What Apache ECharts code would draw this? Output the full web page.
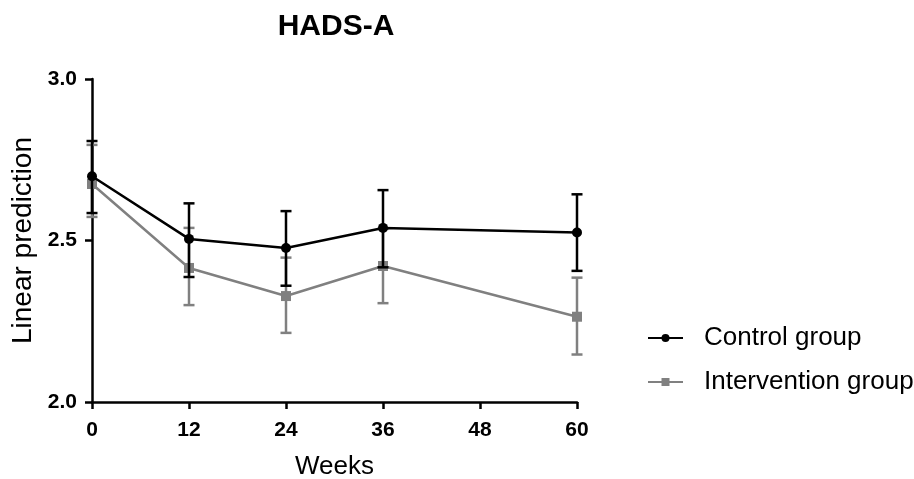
<!DOCTYPE html>
<html>
<head>
<meta charset="utf-8">
<script src="https://cdn.jsdelivr.net/npm/echarts@6/dist/echarts.min.js"></script>
<style>
  html, body { margin: 0; padding: 0; background: #fff; }
  #chart { width: 914px; height: 479px; }
</style>
</head>
<body>
<div id="chart"></div>
<script>
var weeks = [0, 12, 24, 36, 60]
var controlMean = [2.699, 2.505, 2.477, 2.539, 2.525]
var controlLow = [2.585, 2.387, 2.360, 2.417, 2.406]
var controlHigh = [2.808, 2.615, 2.591, 2.656, 2.643]
var interventionMean = [2.675, 2.415, 2.328, 2.421, 2.264]
var interventionLow = [2.573, 2.300, 2.214, 2.306, 2.147]
var interventionHigh = [2.796, 2.539, 2.447, 2.536, 2.385]
var yTicks = [2.0, 2.5, 3.0]

var font = 'Liberation Sans, Arial, sans-serif'
var chart = echarts.init(document.getElementById('chart'))

// vertical error bars with caps, drawn through the value axes
function errorSeries(id, low, high, color, z) {
  return {
    type: 'custom',
    name: id,
    z: z,
    silent: true,
    data: weeks.map((w, i) => [w, low[i], high[i]]),
    renderItem: function(params, api) {
      var top = api.coord([api.value(0), api.value(2)])
      var bot = api.coord([api.value(0), api.value(1)])
      var cap = 5.5
      var style = { stroke: color, lineWidth: 2.5 }
      return {
        type: 'group',
        children: [
          { type: 'line', shape: { x1: top[0], y1: top[1], x2: bot[0], y2: bot[1] }, style: style },
          { type: 'line', shape: { x1: top[0] - cap, y1: top[1], x2: top[0] + cap, y2: top[1] }, style: style },
          { type: 'line', shape: { x1: bot[0] - cap, y1: bot[1], x2: bot[0] + cap, y2: bot[1] }, style: style }
        ]
      }
    }
  }
}

var axisStyle = { lineStyle: { color: '#000', width: 2.5 } }
var tickStyle = { show: true, length: 7, lineStyle: { color: '#000', width: 2.5 } }

chart.setOption({
  animation: false,
  title: {
    text: 'HADS-A',
    left: 331,
    textAlign: 'center',
    top: 7,
    textStyle: { fontFamily: font, fontSize: 30, fontWeight: 'bold', color: '#000' }
  },
  legend: {
    orient: 'vertical',
    left: 647,
    top: 325,
    padding: 0,
    itemWidth: 35,
    itemHeight: 10,
    itemGap: 18,
    data: ['Control group', 'Intervention group'],
    textStyle: { fontFamily: font, fontSize: 26, color: '#000', padding: [0, 0, 0, 16] }
  },
  grid: { left: 92, right: 337, top: 79, bottom: 77, outerBoundsMode: 'none' },
  xAxis: {
    type: 'value',
    min: 0,
    max: 60,
    interval: 12,
    name: 'Weeks',
    nameLocation: 'middle',
    nameGap: 52,
    nameTextStyle: { fontFamily: font, fontSize: 26, color: '#000' },
    axisLine: axisStyle,
    axisTick: tickStyle,
    axisLabel: { fontFamily: font, fontSize: 21, fontWeight: 'bold', color: '#000', margin: 18 },
    splitLine: { show: false }
  },
  yAxis: {
    type: 'value',
    min: 2,
    max: 3,
    interval: 0.5,
    name: 'Linear prediction',
    nameLocation: 'middle',
    nameGap: 54,
    nameTextStyle: { fontFamily: font, fontSize: 28, color: '#000' },
    axisLine: axisStyle,
    axisTick: tickStyle,
    axisLabel: {
      fontFamily: font, fontSize: 21, fontWeight: 'bold', color: '#000', margin: 15,
      formatter: v => yTicks.indexOf(v) >= 0 ? v.toFixed(1) : ''
    },
    splitLine: { show: false }
  },
  series: [
    errorSeries('intervention-err', interventionLow, interventionHigh, '#808080', 1),
    {
      type: 'line',
      name: 'Intervention group',
      z: 2,
      data: weeks.map((w, i) => [w, interventionMean[i]]),
      symbol: 'rect',
      symbolSize: 10,
      itemStyle: { color: '#808080' },
      lineStyle: { color: '#808080', width: 2.5 }
    },
    errorSeries('control-err', controlLow, controlHigh, '#000', 3),
    {
      type: 'line',
      name: 'Control group',
      z: 4,
      data: weeks.map((w, i) => [w, controlMean[i]]),
      symbol: 'circle',
      symbolSize: 10,
      itemStyle: { color: '#000' },
      lineStyle: { color: '#000', width: 2.5 }
    }
  ]
})
</script>
</body>
</html>
